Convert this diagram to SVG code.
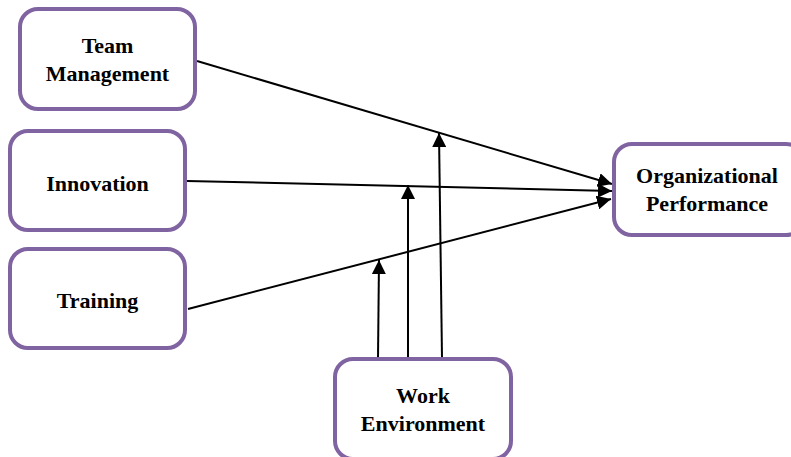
<svg xmlns="http://www.w3.org/2000/svg" width="791" height="457" viewBox="0 0 791 457">
<defs>
<style>
.box{fill:#fff;stroke:#8064A2;stroke-width:4}
.lbl{font-family:"Liberation Serif","Times New Roman",serif;font-weight:bold;font-size:22px;fill:#000;text-anchor:middle}
.ln{stroke:#000;stroke-width:2;fill:none;marker-end:url(#ah)}
</style>
<marker id="ah" viewBox="0 0 14 14" refX="14" refY="7" markerWidth="14" markerHeight="14" markerUnits="userSpaceOnUse" orient="auto">
<path d="M0,0 L14,7 L0,14 Z" fill="#000"/>
</marker>
</defs>
<rect width="791" height="457" fill="#fff"/>
<g id="connectors">
<line class="ln" x1="197" y1="61" x2="612" y2="184"/>
<line class="ln" x1="187" y1="181" x2="612" y2="191"/>
<line class="ln" x1="188" y1="309" x2="611" y2="199"/>
<line class="ln" x1="378" y1="358" x2="379" y2="260"/>
<line class="ln" x1="408" y1="358" x2="408" y2="185"/>
<line class="ln" x1="442" y1="358" x2="439" y2="133"/>
</g>
<g id="team-management">
<rect class="box" x="20" y="9" width="175" height="100" rx="18"/>
<text class="lbl" x="107.5" y="53">Team</text>
<text class="lbl" x="107.5" y="81">Management</text>
</g>
<g id="innovation">
<rect class="box" x="10" y="131" width="175" height="99" rx="18"/>
<text class="lbl" x="97.5" y="191">Innovation</text>
</g>
<g id="training">
<rect class="box" x="10" y="249" width="175" height="99" rx="18"/>
<text class="lbl" x="97.5" y="308">Training</text>
</g>
<g id="work-environment">
<rect class="box" x="335" y="359" width="176" height="100" rx="18"/>
<text class="lbl" x="423" y="403">Work</text>
<text class="lbl" x="423" y="431">Environment</text>
</g>
<g id="organizational-performance">
<rect class="box" x="614" y="144" width="190" height="91" rx="18"/>
<text class="lbl" x="707" y="183">Organizational</text>
<text class="lbl" x="707" y="211">Performance</text>
</g>
</svg>
